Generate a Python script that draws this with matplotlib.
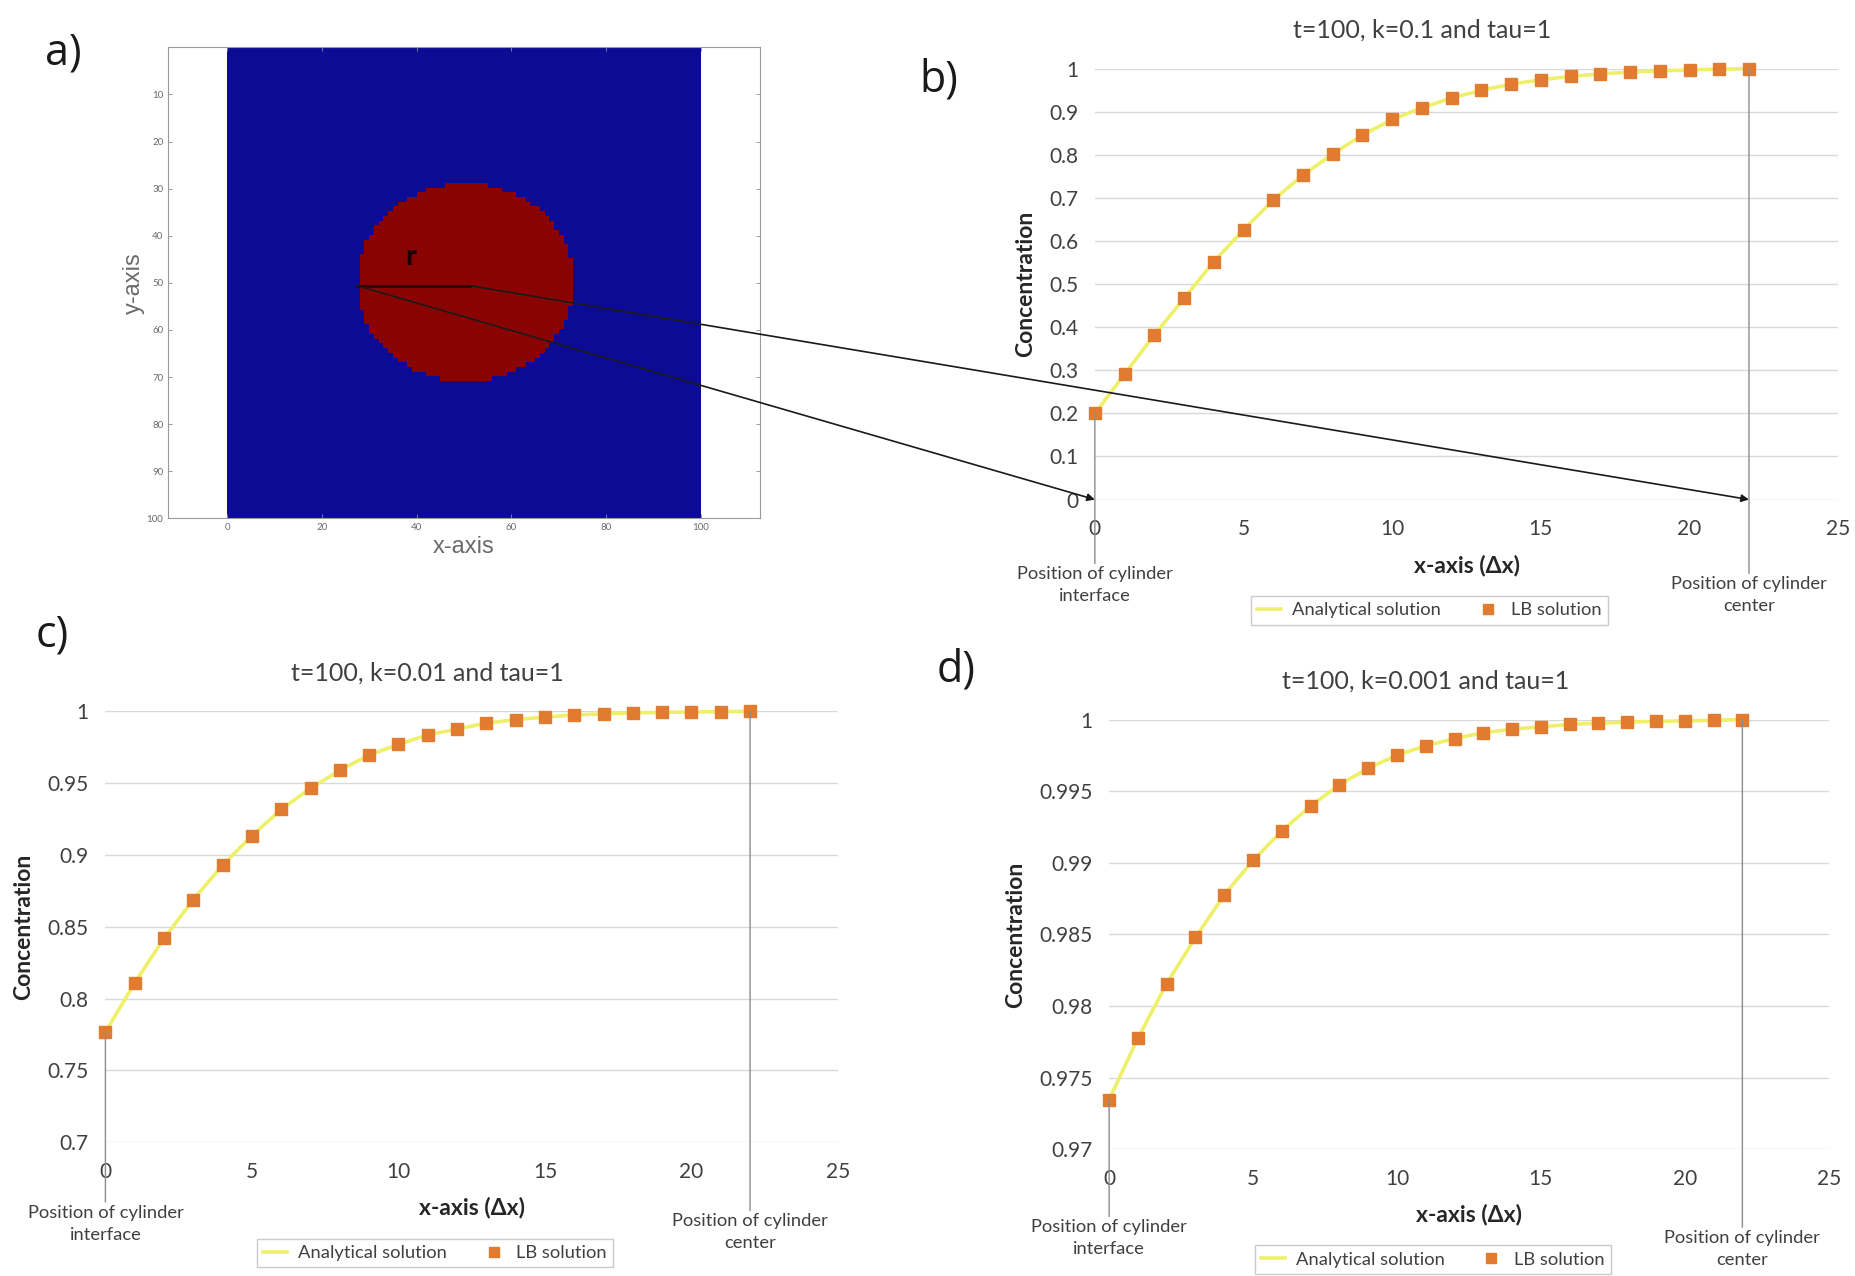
import numpy as np
import matplotlib
matplotlib.use("Agg")
import matplotlib.pyplot as plt
from matplotlib.colors import ListedColormap
from matplotlib.patches import ConnectionPatch
from matplotlib.lines import Line2D
from matplotlib.transforms import blended_transform_factory

plt.rcParams['font.family'] = ['Lato', 'DejaVu Sans']

# lattice nodes from the cylinder interface (0) to its centre (22)
x_nodes = list(range(23))

# concentration profiles, t=100, tau=1
conc_k01 = [0.200, 0.291, 0.382, 0.467, 0.552, 0.626, 0.695, 0.753, 0.802, 0.846,
            0.882, 0.909, 0.932, 0.950, 0.964, 0.974, 0.982, 0.988, 0.992, 0.995,
            0.997, 0.999, 1.000]
conc_k001 = [0.7767, 0.8110, 0.8420, 0.8690, 0.8930, 0.9135, 0.9317, 0.9465, 0.9589,
             0.9696, 0.9770, 0.9836, 0.9877, 0.9918, 0.9943, 0.9960, 0.9975, 0.9983,
             0.9990, 0.9993, 0.9996, 0.9998, 1.0000]
conc_k0001 = [0.97347, 0.97777, 0.98157, 0.98479, 0.98777, 0.99017, 0.99223, 0.99397,
              0.99545, 0.99661, 0.99752, 0.99818, 0.99868, 0.99909, 0.99934, 0.99950,
              0.99967, 0.99975, 0.99983, 0.99988, 0.99992, 0.99996, 1.00000]

yticks_b = [0, 0.1, 0.2, 0.3, 0.4, 0.5, 0.6, 0.7, 0.8, 0.9, 1]
ylabels_b = ['0', '0.1', '0.2', '0.3', '0.4', '0.5', '0.6', '0.7', '0.8', '0.9', '1']
yticks_c = [0.7, 0.75, 0.8, 0.85, 0.9, 0.95, 1]
ylabels_c = ['0.7', '0.75', '0.8', '0.85', '0.9', '0.95', '1']
yticks_d = [0.97, 0.975, 0.98, 0.985, 0.99, 0.995, 1]
ylabels_d = ['0.97', '0.975', '0.98', '0.985', '0.99', '0.995', '1']
xticks = [0, 5, 10, 15, 20, 25]

# cylinder in the 100x100 domain
cyl_cx, cyl_cy = 50.3, 50.1
cyl_rx, cyl_ry = 22.8, 21.0
r_start = (27.4, 50.6)
r_end = (51.3, 50.6)

LINE_C = '#EEF06A'
MARK_C = '#E07B30'
TXT_C = '#404040'
GRID_C = '#D9D9D9'

fig = plt.figure(figsize=(18.56, 12.76), dpi=100)

# ---- a) lattice with the cylinder ----
ax_a = fig.add_axes([0.0906, 0.5937, 0.3188, 0.3692])
yy, xx = np.mgrid[0:100, 0:100] + 0.5
field = (((xx - cyl_cx) / cyl_rx) ** 2 + ((yy - cyl_cy) / cyl_ry) ** 2 <= 1).astype(float)
ax_a.imshow(field, cmap=ListedColormap(['#0B0B96', '#8A0303']), extent=(0, 100, 100, 0),
            aspect='auto', interpolation='nearest')
ax_a.set_xlim(-12.5, 112.5)
ax_a.set_ylim(100, 0)
ax_a.set_xticks([0, 20, 40, 60, 80, 100])
ax_a.set_yticks([10, 20, 30, 40, 50, 60, 70, 80, 90, 100])
ax_a.tick_params(direction='in', top=True, right=True, length=3, width=0.6,
                 labelsize=7, colors='#8a8a8a', labelcolor='#6a6a6a')
for s in ax_a.spines.values():
    s.set_color('#9a9a9a')
    s.set_linewidth(0.8)
ax_a.set_xlabel('x-axis', fontsize=17, color='#6a6a6a', family='Liberation Sans', labelpad=3)
ax_a.set_ylabel('y-axis', fontsize=17, color='#6a6a6a', family='Liberation Sans', labelpad=1)
ax_a.plot([r_start[0], r_end[0]], [r_start[1], r_end[1]], color='#2a0000', lw=1.8)
ax_a.text(38.8, 44.5, 'r', fontsize=21, fontweight='bold', color='#1a0000',
          ha='center', va='center')


def excel_panel(rect, conc, yticks, ylabels, title, ylab_x, iface_y, center_y):
    ax = fig.add_axes(rect)
    ax.plot(x_nodes, conc, color=LINE_C, lw=2.6, zorder=2, clip_on=False)
    ax.plot(x_nodes, conc, 's', color=MARK_C, ms=8.5, mec=MARK_C, zorder=3, clip_on=False)
    ax.set_xlim(0, 25)
    ax.set_ylim(yticks[0], yticks[-1])
    ax.set_xticks(xticks)
    ax.set_yticks(yticks)
    ax.set_yticklabels(ylabels)
    ax.grid(axis='y', color=GRID_C, lw=1)
    ax.set_axisbelow(True)
    for s in ax.spines.values():
        s.set_visible(False)
    ax.tick_params(length=0, labelsize=15, labelcolor=TXT_C)
    ax.tick_params(axis='y', pad=12)
    ax.tick_params(axis='x', pad=14)
    ax.text(0.44, 1.09, title, transform=ax.transAxes, ha='center', va='center',
            fontsize=18, color=TXT_C)
    ax.text(ylab_x, 0.5, 'Concentration', transform=ax.transAxes, rotation=90,
            ha='center', va='center', fontsize=16.5, fontweight='bold', color='#262626')
    ax.text(0.5, -0.152, 'x-axis (\u0394x)', transform=ax.transAxes, ha='center',
            va='center', fontsize=16.5, fontweight='bold', color='#262626')
    trans = blended_transform_factory(ax.transData, ax.transAxes)
    arrow = dict(arrowstyle='-', color='#8c8c8c', lw=1, shrinkA=0, shrinkB=0)
    ax.annotate('Position of cylinder\ninterface', xy=(x_nodes[0], conc[0]),
                xytext=(x_nodes[0], iface_y), textcoords=trans, ha='center', va='top',
                fontsize=13.2, color=TXT_C, arrowprops=arrow, annotation_clip=False,
                linespacing=1.45)
    ax.annotate('Position of cylinder\ncenter', xy=(x_nodes[-1], conc[-1]),
                xytext=(x_nodes[-1], center_y), textcoords=trans, ha='center', va='top',
                fontsize=13.2, color=TXT_C, arrowprops=arrow, annotation_clip=False,
                linespacing=1.45)
    handles = [Line2D([], [], color=LINE_C, lw=2.6),
               Line2D([], [], ls='none', marker='s', color=MARK_C, ms=7.5)]
    ax.legend(handles, ['Analytical solution', 'LB solution'], loc='center',
              bbox_to_anchor=(0.45, -0.257), ncol=2, fontsize=13.2, frameon=True,
              fancybox=False, edgecolor='#BFBFBF', handlelength=1.3, columnspacing=1.9,
              borderpad=0.35, handletextpad=0.6, labelcolor=TXT_C)
    return ax


ax_b = excel_panel([0.5899, 0.6085, 0.4005, 0.3377], conc_k01, yticks_b, ylabels_b,
                   't=100, k=0.1 and tau=1', -0.093, -0.155, -0.178)
ax_c = excel_panel([0.0568, 0.1048, 0.3947, 0.3377], conc_k001, yticks_c, ylabels_c,
                   't=100, k=0.01 and tau=1', -0.112, -0.145, -0.165)
ax_d = excel_panel([0.5976, 0.0993, 0.3877, 0.3367], conc_k0001, yticks_d, ylabels_d,
                   't=100, k=0.001 and tau=1', -0.13, -0.163, -0.188)

# arrows from the cylinder sketch to the profile end points
for src, dst in [(r_start, (x_nodes[0], 0)), (r_end, (x_nodes[-1], 0))]:
    con = ConnectionPatch(xyA=src, coordsA='data', axesA=ax_a, xyB=dst, coordsB='data',
                          axesB=ax_b, arrowstyle='-|>', color='#1a1a1a', lw=1.2,
                          mutation_scale=11, shrinkA=0, shrinkB=0, zorder=10)
    fig.add_artist(con)

for tag, (tx, ty) in zip(['a)', 'b)', 'c)', 'd)'],
                         [(0.034, 0.958), (0.506, 0.937), (0.028, 0.502), (0.515, 0.475)]):
    fig.text(tx, ty, tag, fontsize=31, ha='center', va='center', color='#1a1a1a',
             family='Open Sans', fontweight='medium')

fig.savefig('out.png', dpi=100, facecolor='white')
